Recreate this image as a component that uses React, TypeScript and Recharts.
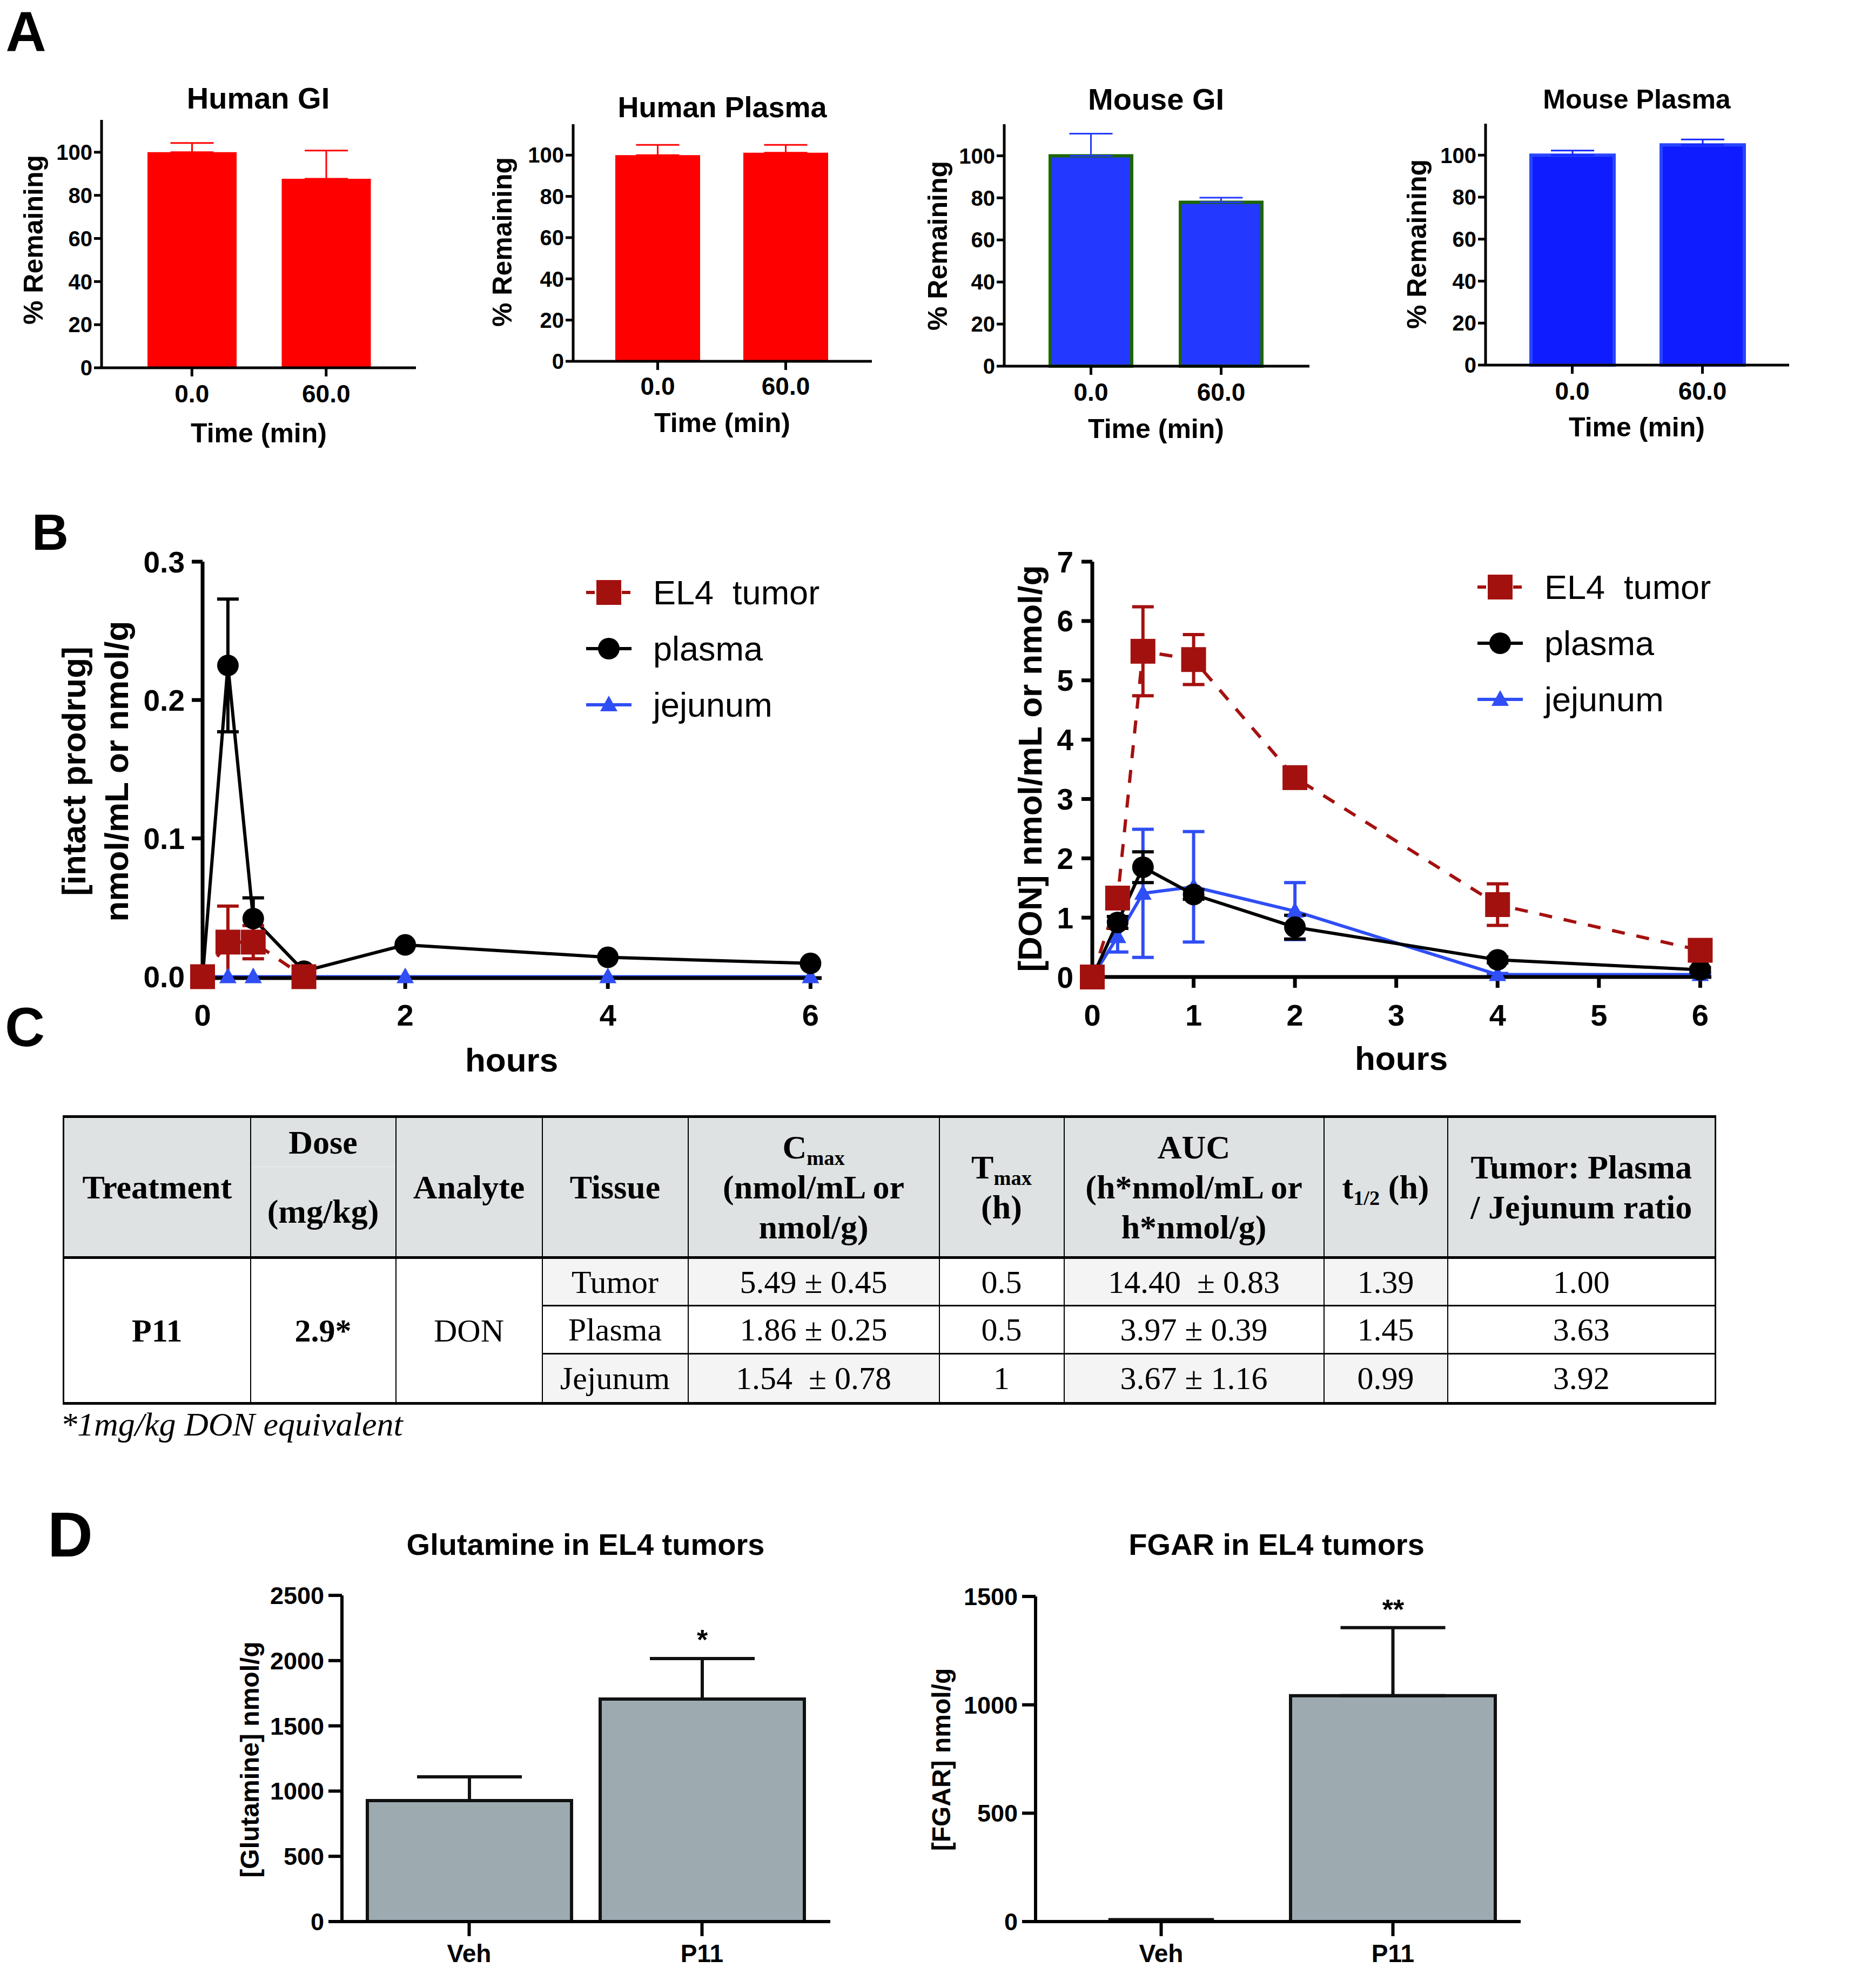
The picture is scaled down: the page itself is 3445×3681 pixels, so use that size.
import React from 'react';
import { BarChart, Bar, LineChart, Line, XAxis, YAxis, ErrorBar, Legend } from 'recharts';

const SANS = '"Liberation Sans", Arial, Helvetica, sans-serif';
const SERIF = '"Liberation Serif", "Times New Roman", serif';

// ---- A: stability, % remaining ----
const stabilityTimes = ['0.0', '60.0'];
const humanGIMean = [100, 87.7];
const humanGIErr = [4.3, 13.1];
const humanPlasmaMean = [100, 101.2];
const humanPlasmaErr = [5.0, 3.8];
const mouseGIMean = [100, 77.9];
const mouseGIErr = [10.5, 2.2];
const mousePlasmaMean = [100, 104.9];
const mousePlasmaErr = [2.2, 2.6];
const percentTicks = [0, 20, 40, 60, 80, 100];

// ---- B: time courses ----
const hours = [0, 0.25, 0.5, 1, 2, 4, 6];
const prodrugTumor = [0, 0.025, 0.025, 0, null, null, null];
const prodrugTumorErr = [0, 0.026, 0.012, 0, null, null, null];
const prodrugPlasma = [0, 0.225, 0.042, 0.004, 0.023, 0.014, 0.0096];
const prodrugPlasmaErr = [0, 0.048, 0.015, 0, 0, 0, 0];
const prodrugJejunum = [0, 0, 0, 0, 0, 0, 0];
const donTumor = [0, 1.33, 5.49, 5.35, 3.36, 1.22, 0.45];
const donTumorErr = [0, 0.1, 0.75, 0.42, 0.1, 0.35, 0.1];
const donPlasma = [0, 0.92, 1.85, 1.39, 0.84, 0.29, 0.12];
const donPlasmaErr = [0, 0.1, 0.26, 0.08, 0.2, 0.05, 0.04];
const donJejunum = [0, 0.68, 1.41, 1.52, 1.11, 0.04, 0.04];
const donJejunumErr = [0, 0.26, 1.08, 0.93, 0.48, 0.02, 0.02];

// ---- C: PK table ----
const tableTissues = ['Tumor', 'Plasma', 'Jejunum'];
const tableCmax = ['5.49 ± 0.45', '1.86 ± 0.25', '1.54  ± 0.78'];
const tableTmax = ['0.5', '0.5', '1'];
const tableAuc = ['14.40  ± 0.83', '3.97 ± 0.39', '3.67 ± 1.16'];
const tableHalfLife = ['1.39', '1.45', '0.99'];
const tableRatio = ['1.00', '3.63', '3.92'];

// ---- D: tumor metabolites ----
const groups = ['Veh', 'P11'];
const glutamineMean = [927, 1705];
const glutamineErr = [182, 311];
const fgarMean = [8, 1042];
const fgarErr = [0, 314];

const toRows = (names: string[], mean: number[], err: number[]) =>
  names.map((name, i) => ({ name, value: mean[i], err: [0, err[i]] }));

const pkRows = (tumor: (number | null)[], tumorErr: (number | null)[], plasma: number[], plasmaErr: number[], jej: number[], jejErr?: number[]) =>
  hours.map((t, i) => ({
    t,
    tumor: tumor[i],
    tumorErr: tumorErr[i],
    plasma: plasma[i],
    plasmaErr: plasmaErr[i],
    jejunum: jej[i],
    jejunumErr: jejErr ? jejErr[i] : null,
  }));

const RED = '#A3110F';
const BLUE = '#2F4EF5';

const seriesStyle: Record<string, { color: string; dash?: string; marker: string }> = {
  tumor: { color: RED, dash: '24 22', marker: 'square' },
  plasma: { color: '#000', marker: 'circle' },
  jejunum: { color: BLUE, marker: 'triangle' },
};
const legendOrder = ['tumor', 'plasma', 'jejunum'];

function Marker({ kind, cx, cy, color }: { kind: string; cx: number; cy: number; color: string }) {
  if (kind === 'square') return <rect x={cx - 23} y={cy - 23} width={46} height={46} fill={color} />;
  if (kind === 'circle') return <circle cx={cx} cy={cy} r={20} fill={color} />;
  return <polygon points={`${cx},${cy - 17} ${cx - 16},${cy + 12} ${cx + 16},${cy + 12}`} fill={color} />;
}

const dotFor = (key: string) => (props: any) => {
  const { cx, cy, index } = props;
  if (cx == null || cy == null || props.value == null) return <g key={`n${key}${index}`} />;
  const st = seriesStyle[key];
  return <Marker key={`${key}${index}`} kind={st.marker} cx={cx} cy={cy} color={st.color} />;
};

function PkLegend(props: any) {
  const items = [...(props.payload || [])].sort(
    (a: any, b: any) => legendOrder.indexOf(a.dataKey) - legendOrder.indexOf(b.dataKey)
  );
  return (
    <div>
      {items.map((it: any) => {
        const st = seriesStyle[it.dataKey];
        return (
          <div key={it.dataKey} style={{ display: 'flex', alignItems: 'center', height: 104 }}>
            <svg width={84} height={52} style={{ overflow: 'visible' }}>
              <line x1={0} y1={26} x2={84} y2={26} stroke={st.color} strokeWidth={6} strokeDasharray={st.dash ? '16 6' : undefined} />
              <Marker kind={st.marker} cx={42} cy={26} color={st.color} />
            </svg>
            <span style={{ marginLeft: 40, fontSize: 63, fontFamily: SANS, whiteSpace: 'pre', lineHeight: 1, color: '#000' }}>
              {it.value}
            </span>
          </div>
        );
      })}
    </div>
  );
}

function Txt({ x, y, size, children, weight = 700, rotate = 0, family = SANS, italic = false }: any) {
  return (
    <div
      style={{
        position: 'absolute',
        left: x,
        top: y,
        transform: `translate(-50%, -50%) rotate(${rotate}deg)`,
        fontSize: size,
        fontWeight: weight,
        fontFamily: family,
        fontStyle: italic ? 'italic' : 'normal',
        lineHeight: 1,
        whiteSpace: 'pre',
        color: '#000',
      }}
    >
      {children}
    </div>
  );
}

function StatBar(p: any) {
  const yw = 220, mt = 40, mr = 20, xh = 160;
  const width = p.endX - p.axisX + yw + mr;
  const height = p.zero - p.top + mt + xh;
  const axisStyle = { stroke: '#000', strokeWidth: p.axisW };
  const shape = p.narrowFirst
    ? (sp: any) => {
        const w = sp.index === 0 ? sp.width / 2 : sp.width;
        return (
          <rect x={sp.x + (sp.width - w) / 2} y={sp.y} width={w} height={sp.height}
            fill={p.fill} stroke={p.stroke} strokeWidth={p.strokeW} />
        );
      }
    : undefined;
  return (
    <div style={{ position: 'absolute', left: p.axisX - yw, top: p.top - mt }}>
      <BarChart width={width} height={height} data={p.rows} margin={{ top: mt, right: mr, bottom: 0, left: 0 }}>
        <XAxis
          dataKey="name"
          interval={0}
          height={xh}
          padding={{ left: p.padL, right: p.padR }}
          axisLine={axisStyle}
          tickLine={axisStyle}
          tickSize={p.xTickSize}
          tickMargin={p.xTickMargin}
          tick={{ fill: '#000', fontSize: p.xFont, fontWeight: 700, fontFamily: SANS }}
        />
        <YAxis
          width={yw}
          domain={[0, p.yMax]}
          ticks={p.yTicks}
          interval={0}
          axisLine={axisStyle}
          tickLine={axisStyle}
          tickSize={p.yTickSize}
          tickMargin={p.yTickMargin}
          tick={{ fill: '#000', fontSize: p.yFont, fontWeight: 700, fontFamily: SANS }}
        />
        <Bar
          dataKey="value"
          barSize={p.barSize}
          fill={p.fill}
          stroke={p.stroke}
          strokeWidth={p.strokeW}
          isAnimationActive={false}
          shape={shape}
        >
          <ErrorBar dataKey="err" direction="y" width={p.errHalf} stroke={p.errColor} strokeWidth={p.errW} />
        </Bar>
      </BarChart>
    </div>
  );
}

function PkChart(p: any) {
  const yw = 200, mt = 50, mr = 60, xh = 150;
  const width = p.endX - p.axisX + yw + mr;
  const height = p.zero - p.top + mt + xh;
  const axisStyle = { stroke: '#000', strokeWidth: 7 };
  return (
    <div style={{ position: 'absolute', left: p.axisX - yw, top: p.top - mt }}>
      <LineChart width={width} height={height} data={p.rows} margin={{ top: mt, right: mr, bottom: 0, left: 0 }}>
        <XAxis
          type="number"
          dataKey="t"
          domain={[0, 6.11]}
          ticks={p.xTicks}
          interval={0}
          height={xh}
          axisLine={axisStyle}
          tickLine={axisStyle}
          tickSize={20}
          tickMargin={p.xTickMargin}
          tick={{ fill: '#000', fontSize: 56, fontWeight: 700, fontFamily: SANS }}
        />
        <YAxis
          type="number"
          width={yw}
          domain={[0, p.yMax]}
          ticks={p.yTicks}
          interval={0}
          tickFormatter={p.yFormat}
          axisLine={axisStyle}
          tickLine={axisStyle}
          tickSize={20}
          tickMargin={p.yTickMargin}
          tick={{ fill: '#000', fontSize: 55, fontWeight: 700, fontFamily: SANS }}
        />
        <Legend
          layout="vertical"
          align="center"
          verticalAlign="middle"
          content={(lp: any) => <PkLegend {...lp} />}
          wrapperStyle={{ left: p.legendLeft, top: p.legendTop, width: 'auto', height: 'auto' }}
        />
        <Line dataKey="jejunum" name="jejunum" stroke={BLUE} strokeWidth={6} dot={dotFor('jejunum')} activeDot={false} isAnimationActive={false}>
          {p.jejErr && <ErrorBar dataKey="jejunumErr" direction="y" width={20} stroke={BLUE} strokeWidth={6} />}
        </Line>
        <Line dataKey="plasma" name="plasma" stroke="#000" strokeWidth={6} dot={dotFor('plasma')} activeDot={false} isAnimationActive={false}>
          <ErrorBar dataKey="plasmaErr" direction="y" width={20} stroke="#000" strokeWidth={6} />
        </Line>
        <Line dataKey="tumor" name="EL4  tumor" stroke={RED} strokeWidth={6} strokeDasharray="24 22" dot={dotFor('tumor')} activeDot={false} isAnimationActive={false}>
          <ErrorBar dataKey="tumorErr" direction="y" width={20} stroke={RED} strokeWidth={6} />
        </Line>
      </LineChart>
    </div>
  );
}

const colWidths = [346, 269, 271, 270, 465, 231, 481, 229, 496];
const thBase: React.CSSProperties = {
  border: '2px solid #000',
  borderTop: '5px solid #000',
  borderBottom: '5px solid #000',
  fontWeight: 700,
  textAlign: 'center',
  verticalAlign: 'middle',
  padding: 0,
  lineHeight: '74px',
  fontSize: 62,
};
const tdBase: React.CSSProperties = {
  border: '2px solid #000',
  borderTop: '3px solid #000',
  borderBottom: '3px solid #000',
  textAlign: 'center',
  verticalAlign: 'middle',
  padding: 0,
  fontSize: 60,
  lineHeight: 1,
  whiteSpace: 'pre',
};
const subStyle: React.CSSProperties = { fontSize: '62%', verticalAlign: '-0.3em', lineHeight: 0 };

function PkTable() {
  const rowHeights = [89, 89, 92];
  const shade = (i: number) => (i === 1 ? '#fff' : '#F4F4F4');
  return (
    <table
      style={{
        position: 'absolute',
        left: 116,
        top: 2065,
        width: 3058,
        borderCollapse: 'collapse',
        tableLayout: 'fixed',
        fontFamily: SERIF,
        color: '#000',
        borderLeft: '3px solid #000',
        borderRight: '3px solid #000',
        borderBottom: '5px solid #000',
      }}
    >
      <colgroup>
        {colWidths.map((w, i) => (
          <col key={i} style={{ width: w }} />
        ))}
      </colgroup>
      <thead>
        <tr style={{ height: 261, background: '#DEE2E3' }}>
          <th style={thBase}>Treatment</th>
          <th style={thBase}>
            <div style={{ height: 90, lineHeight: '90px', borderBottom: '1px solid #eef0f0' }}>Dose</div>
            <div style={{ height: 165, lineHeight: '165px' }}>(mg/kg)</div>
          </th>
          <th style={thBase}>Analyte</th>
          <th style={thBase}>Tissue</th>
          <th style={thBase}>
            C<sub style={subStyle}>max</sub>
            <br />
            (nmol/mL or
            <br />
            nmol/g)
          </th>
          <th style={thBase}>
            T<sub style={subStyle}>max</sub>
            <br />
            (h)
          </th>
          <th style={thBase}>
            AUC
            <br />
            (h*nmol/mL or
            <br />
            h*nmol/g)
          </th>
          <th style={thBase}>
            t<sub style={subStyle}>1/2</sub> (h)
          </th>
          <th style={thBase}>
            Tumor: Plasma
            <br />/ Jejunum ratio
          </th>
        </tr>
      </thead>
      <tbody>
        {tableTissues.map((tissue, i) => (
          <tr key={tissue} style={{ height: rowHeights[i] }}>
            {i === 0 && (
              <>
                <td rowSpan={3} style={{ ...tdBase, fontWeight: 700, background: '#fff' }}>P11</td>
                <td rowSpan={3} style={{ ...tdBase, fontWeight: 700, background: '#fff' }}>2.9*</td>
                <td rowSpan={3} style={{ ...tdBase, background: '#fff' }}>DON</td>
              </>
            )}
            <td style={{ ...tdBase, background: shade(i) }}>{tissue}</td>
            <td style={{ ...tdBase, background: shade(i) }}>{tableCmax[i]}</td>
            <td style={{ ...tdBase, background: '#fff' }}>{tableTmax[i]}</td>
            <td style={{ ...tdBase, background: shade(i) }}>{tableAuc[i]}</td>
            <td style={{ ...tdBase, background: shade(i) }}>{tableHalfLife[i]}</td>
            <td style={{ ...tdBase, background: '#fff' }}>{tableRatio[i]}</td>
          </tr>
        ))}
      </tbody>
    </table>
  );
}

const aCommon = {
  yMax: 115,
  yTicks: percentTicks,
  yFont: 40,
  xFont: 46,
  axisW: 5,
  yTickSize: 14,
  yTickMargin: 3,
  xTickSize: 16,
  xTickMargin: 15,
  errW: 3,
  errHalf: 40,
};

const dCommon = {
  yFont: 45,
  xFont: 46,
  axisW: 6,
  yTickSize: 25,
  yTickMargin: 8,
  xTickSize: 27,
  xTickMargin: 15,
  errW: 6,
  errHalf: 97,
  fill: '#9DABB1',
  stroke: '#111',
  strokeW: 6,
  errColor: '#111',
};

export default function App() {
  return (
    <div style={{ position: 'relative', width: 3445, height: 3681, margin: -8, background: '#fff', overflow: 'hidden' }}>
      {/* A */}
      <StatBar {...aCommon} axisX={188} top={222} endX={770} zero={681} rows={toRows(stabilityTimes, humanGIMean, humanGIErr)}
        padL={43} padR={42} barSize={165} fill="#FF0000" errColor="#FF0000" />
      <StatBar {...aCommon} axisX={1061} top={230} endX={1614} zero={669} rows={toRows(stabilityTimes, humanPlasmaMean, humanPlasmaErr)}
        padL={38} padR={41} barSize={157} fill="#FF0000" errColor="#FF0000" xTickMargin={13} />
      <StatBar {...aCommon} axisX={1859} top={230} endX={2424} zero={678} rows={toRows(stabilityTimes, mouseGIMean, mouseGIErr)}
        padL={40} padR={43} barSize={151} fill="#2339FF" stroke="#1D6600" strokeW={6} errColor="#2339FF" />
      <StatBar {...aCommon} axisX={2750} top={229} endX={3312} zero={676} rows={toRows(stabilityTimes, mousePlasmaMean, mousePlasmaErr)}
        padL={40} padR={40} barSize={154} fill="#0F1CFF" stroke="#2846FF" strokeW={6} errColor="#1226FF" />

      {/* B */}
      <PkChart axisX={375} top={1040} endX={1521} zero={1811} yMax={0.3} yTicks={[0, 0.1, 0.2, 0.3]}
        yFormat={(v: number) => v.toFixed(1)} xTicks={[0, 2, 4, 6]} xTickMargin={28} yTickMargin={13}
        rows={pkRows(prodrugTumor, prodrugTumorErr, prodrugPlasma, prodrugPlasmaErr, prodrugJejunum)}
        jejErr={false} legendLeft={910} legendTop={55} />
      <PkChart axisX={2022} top={1040} endX={3168} zero={1809} yMax={7} yTicks={[0, 1, 2, 3, 4, 5, 6, 7]}
        yFormat={(v: number) => String(v)} xTicks={[0, 1, 2, 3, 4, 5, 6]} xTickMargin={30} yTickMargin={15}
        rows={pkRows(donTumor, donTumorErr, donPlasma, donPlasmaErr, donJejunum, donJejunumErr)}
        jejErr={true} legendLeft={913} legendTop={45} />

      {/* C */}
      <PkTable />

      {/* D */}
      <StatBar {...dCommon} axisX={633} top={2954} endX={1537} zero={3558} yMax={2500} yTicks={[0, 500, 1000, 1500, 2000, 2500]}
        rows={toRows(groups, glutamineMean, glutamineErr)} padL={20} padR={22} barSize={378} />
      <StatBar {...dCommon} axisX={1917} top={2956} endX={2815} zero={3558} yMax={1500} yTicks={[0, 500, 1000, 1500]}
        rows={toRows(groups, fgarMean, fgarErr)} padL={18} padR={22} barSize={379} narrowFirst />

      {/* panel letters */}
      <Txt x={48} y={58} size={104}>A</Txt>
      <Txt x={93} y={986} size={94}>B</Txt>
      <Txt x={46} y={1902} size={102}>C</Txt>
      <Txt x={130} y={2842} size={116}>D</Txt>

      {/* A titles and axis labels */}
      <Txt x={478} y={182} size={56}>Human GI</Txt>
      <Txt x={1337} y={198} size={54}>Human Plasma</Txt>
      <Txt x={2140} y={184} size={56}>Mouse GI</Txt>
      <Txt x={3030} y={184} size={50}>Mouse Plasma</Txt>
      <Txt x={479} y={802} size={50}>Time (min)</Txt>
      <Txt x={1337} y={783} size={50}>Time (min)</Txt>
      <Txt x={2140} y={794} size={50}>Time (min)</Txt>
      <Txt x={3030} y={791} size={50}>Time (min)</Txt>
      <Txt x={62} y={444} size={50} rotate={-90}>% Remaining</Txt>
      <Txt x={930} y={448} size={50} rotate={-90}>% Remaining</Txt>
      <Txt x={1736} y={455} size={50} rotate={-90}>% Remaining</Txt>
      <Txt x={2623} y={452} size={50} rotate={-90}>% Remaining</Txt>

      {/* B axis labels */}
      <Txt x={137} y={1428} size={62} rotate={-90}>[intact prodrug]</Txt>
      <Txt x={216} y={1428} size={62} rotate={-90}>nmol/mL or nmol/g</Txt>
      <Txt x={947} y={1963} size={62}>hours</Txt>
      <Txt x={1907} y={1423} size={62} rotate={-90}>[DON] nmol/mL or nmol/g</Txt>
      <Txt x={2594} y={1960} size={62}>hours</Txt>

      {/* C footnote */}
      <div style={{ position: 'absolute', left: 112, top: 2637, transform: 'translateY(-50%)', fontFamily: SERIF, fontStyle: 'italic', fontSize: 62, lineHeight: 1, color: '#000' }}>
        *1mg/kg DON equivalent
      </div>

      {/* D titles, labels, significance */}
      <Txt x={1084} y={2860} size={56}>Glutamine in EL4 tumors</Txt>
      <Txt x={2363} y={2860} size={56}>FGAR in EL4 tumors</Txt>
      <Txt x={463} y={3258} size={48} rotate={-90}>[Glutamine] nmol/g</Txt>
      <Txt x={1743} y={3258} size={48} rotate={-90}>[FGAR] nmol/g</Txt>
      <Txt x={1300} y={3036} size={52}>*</Txt>
      <Txt x={2579} y={2980} size={52}>**</Txt>
    </div>
  );
}
